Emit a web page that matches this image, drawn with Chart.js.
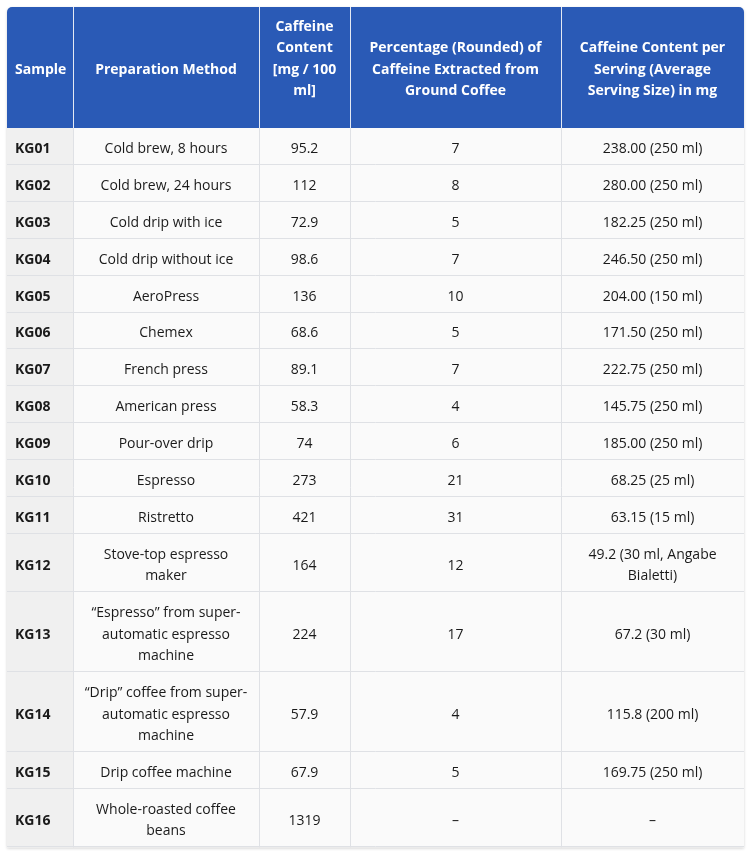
<!DOCTYPE html>
<html>
<head>
<meta charset="utf-8">
<script src="https://cdn.jsdelivr.net/npm/chart.js@4.4.1/dist/chart.umd.min.js"></script>
<style>
  html, body { margin: 0; padding: 0; background: #ffffff; }
  canvas { display: block; }
</style>
</head>
<body>
<canvas id="table" width="750" height="854"></canvas>
<script>
// table content
const headers = [
  "Sample",
  "Preparation Method",
  "Caffeine\nContent\n[mg / 100\nml]\n",
  "Percentage (Rounded) of\nCaffeine Extracted from\nGround Coffee",
  "Caffeine Content per\nServing (Average\nServing Size) in mg"
];
const samples = ["KG01", "KG02", "KG03", "KG04", "KG05", "KG06", "KG07", "KG08",
  "KG09", "KG10", "KG11", "KG12", "KG13", "KG14", "KG15", "KG16"];
const methods = [
  "Cold brew, 8 hours", "Cold brew, 24 hours", "Cold drip with ice", "Cold drip without ice",
  "AeroPress", "Chemex", "French press", "American press", "Pour-over drip", "Espresso",
  "Ristretto", "Stove-top espresso maker", "\u201cEspresso\u201d from super-automatic espresso machine",
  "\u201cDrip\u201d coffee from super-automatic espresso machine", "Drip coffee machine",
  "Whole-roasted coffee beans"
];
const caffeine = ["95.2", "112", "72.9", "98.6", "136", "68.6", "89.1", "58.3", "74", "273",
  "421", "164", "224", "57.9", "67.9", "1319"];
const percentage = ["7", "8", "5", "7", "10", "5", "7", "4", "6", "21", "31", "12", "17", "4", "5", "\u2013"];
const perServing = ["238.00 (250 ml)", "280.00 (250 ml)", "182.25 (250 ml)", "246.50 (250 ml)",
  "204.00 (150 ml)", "171.50 (250 ml)", "222.75 (250 ml)", "145.75 (250 ml)", "185.00 (250 ml)",
  "68.25 (25 ml)", "63.15 (15 ml)", "49.2 (30 ml, Angabe Bialetti)", "67.2 (30 ml)",
  "115.8 (200 ml)", "169.75 (250 ml)", "\u2013"];

// layout (in scale units, which map 1:1 to canvas pixels)
const colEdges = [7, 73, 259, 350, 561, 744];
const colPad = [8, 10, 10, 10, 10];
const tableTop = 7;
const headerHeight = 121;
const lineHeight = 21.5;
const rowPad = 15.4;
const textShift = 2.5; // canvas "middle" sits a little higher than css centring

const FONT = "'Open Sans', 'Noto Sans', sans-serif";
const headerBlue = "#2a5ab6";
const gridColor = "#dfe1e5";
const textColor = "#1a1a1a";

function wrapText(ctx, text, maxW) {
  const out = [];
  text.split("\n").forEach(par => {
    const pieces = [];
    par.split(" ").forEach(w => {
      w.split(/(?<=-)/).forEach((p, i) => pieces.push({ t: p, sep: i === 0 ? " " : "" }));
    });
    let line = "";
    pieces.forEach(p => {
      const cand = line === "" ? p.t : line + p.sep + p.t;
      if (line !== "" && ctx.measureText(cand).width > maxW) {
        out.push(line);
        line = p.t;
      } else {
        line = cand;
      }
    });
    out.push(line);
  });
  return out;
}

function roundTopRect(ctx, x, y, w, h, r) {
  ctx.beginPath();
  ctx.moveTo(x, y + h);
  ctx.lineTo(x, y + r);
  ctx.arcTo(x, y, x + r, y, r);
  ctx.lineTo(x + w - r, y);
  ctx.arcTo(x + w, y, x + w, y + r, r);
  ctx.lineTo(x + w, y + h);
  ctx.closePath();
}

const tablePlugin = {
  id: "tablePlugin",
  afterDraw(chart) {
    const ctx = chart.ctx;
    const xs = chart.scales.x;
    const ys = chart.scales.y;
    const px = v => xs.getPixelForValue(v);
    const py = v => ys.getPixelForValue(v);
    const left = px(colEdges[0]);
    const right = px(colEdges[colEdges.length - 1]);

    // wrap body cells, get row heights
    const columns = [samples, methods, caffeine, percentage, perServing];
    const rows = samples.map((s, r) => columns.map((col, c) => {
      ctx.font = (c === 0 ? "bold 14px " : "14px ") + FONT;
      const w = colEdges[c + 1] - colEdges[c] - 2 * colPad[c];
      return wrapText(ctx, col[r], w);
    }));
    const rowTops = [];
    let y = tableTop + headerHeight;
    rows.forEach(cells => {
      rowTops.push(y);
      const n = Math.max(...cells.map(l => l.length));
      y += n * lineHeight + rowPad;
    });
    const tableBottom = y;

    ctx.save();
    // table body with soft shadow
    ctx.shadowColor = "rgba(0,0,0,0.18)";
    ctx.shadowBlur = 3;
    ctx.shadowOffsetY = 1;
    roundTopRect(ctx, left, py(tableTop), right - left, py(tableBottom) - py(tableTop), 5);
    ctx.fillStyle = "#fafafa";
    ctx.fill();
    ctx.restore();

    // first column shading
    ctx.fillStyle = "#f0f0f0";
    ctx.fillRect(left, py(tableTop + headerHeight), px(colEdges[1]) - left,
      py(tableBottom) - py(tableTop + headerHeight));

    // header
    roundTopRect(ctx, left, py(tableTop), right - left, py(tableTop + headerHeight) - py(tableTop), 5);
    ctx.fillStyle = headerBlue;
    ctx.fill();

    // grid lines
    ctx.lineWidth = 1;
    ctx.strokeStyle = gridColor;
    rowTops.slice(1).concat([tableBottom]).forEach(t => {
      const yy = Math.round(py(t)) - 0.5;
      ctx.beginPath();
      ctx.moveTo(left, yy);
      ctx.lineTo(right, yy);
      ctx.stroke();
    });
    colEdges.slice(1, -1).forEach(e => {
      const xx = Math.round(px(e)) + 0.5;
      ctx.strokeStyle = gridColor;
      ctx.beginPath();
      ctx.moveTo(xx, py(tableTop + headerHeight));
      ctx.lineTo(xx, py(tableBottom));
      ctx.stroke();
      ctx.strokeStyle = "#e4e9f3";
      ctx.beginPath();
      ctx.moveTo(xx, py(tableTop));
      ctx.lineTo(xx, py(tableTop + headerHeight));
      ctx.stroke();
    });

    const drawLines = (lines, c, mid) => {
      lines.forEach((ln, i) => {
        const ly = mid + (i - (lines.length - 1) / 2) * lineHeight + textShift;
        if (c === 0) {
          ctx.textAlign = "left";
          ctx.fillText(ln, px(colEdges[c] + colPad[c]), py(ly));
        } else {
          ctx.textAlign = "center";
          ctx.fillText(ln, px((colEdges[c] + colEdges[c + 1]) / 2), py(ly));
        }
      });
    };

    // header text
    ctx.textBaseline = "middle";
    ctx.fillStyle = "#ffffff";
    ctx.font = "bold 14px " + FONT;
    headers.forEach((h, c) => {
      const w = colEdges[c + 1] - colEdges[c] - 2 * colPad[c];
      drawLines(wrapText(ctx, h, w), c, tableTop + headerHeight / 2);
    });

    // body text
    ctx.fillStyle = textColor;
    rows.forEach((cells, r) => {
      const n = Math.max(...cells.map(l => l.length));
      const mid = rowTops[r] + (n * lineHeight + rowPad) / 2;
      cells.forEach((lines, c) => {
        ctx.font = (c === 0 ? "bold 14px " : "14px ") + FONT;
        drawLines(lines, c, mid);
      });
    });
  }
};

new Chart(document.getElementById("table"), {
  type: "scatter",
  data: { datasets: [] },
  options: {
    responsive: false,
    animation: false,
    events: [],
    layout: { padding: 0 },
    plugins: { legend: { display: false }, tooltip: { enabled: false } },
    scales: {
      x: { type: "linear", min: 0, max: 750, display: false },
      y: { type: "linear", min: 0, max: 854, reverse: true, display: false }
    }
  },
  plugins: [tablePlugin]
});
</script>
</body>
</html>
